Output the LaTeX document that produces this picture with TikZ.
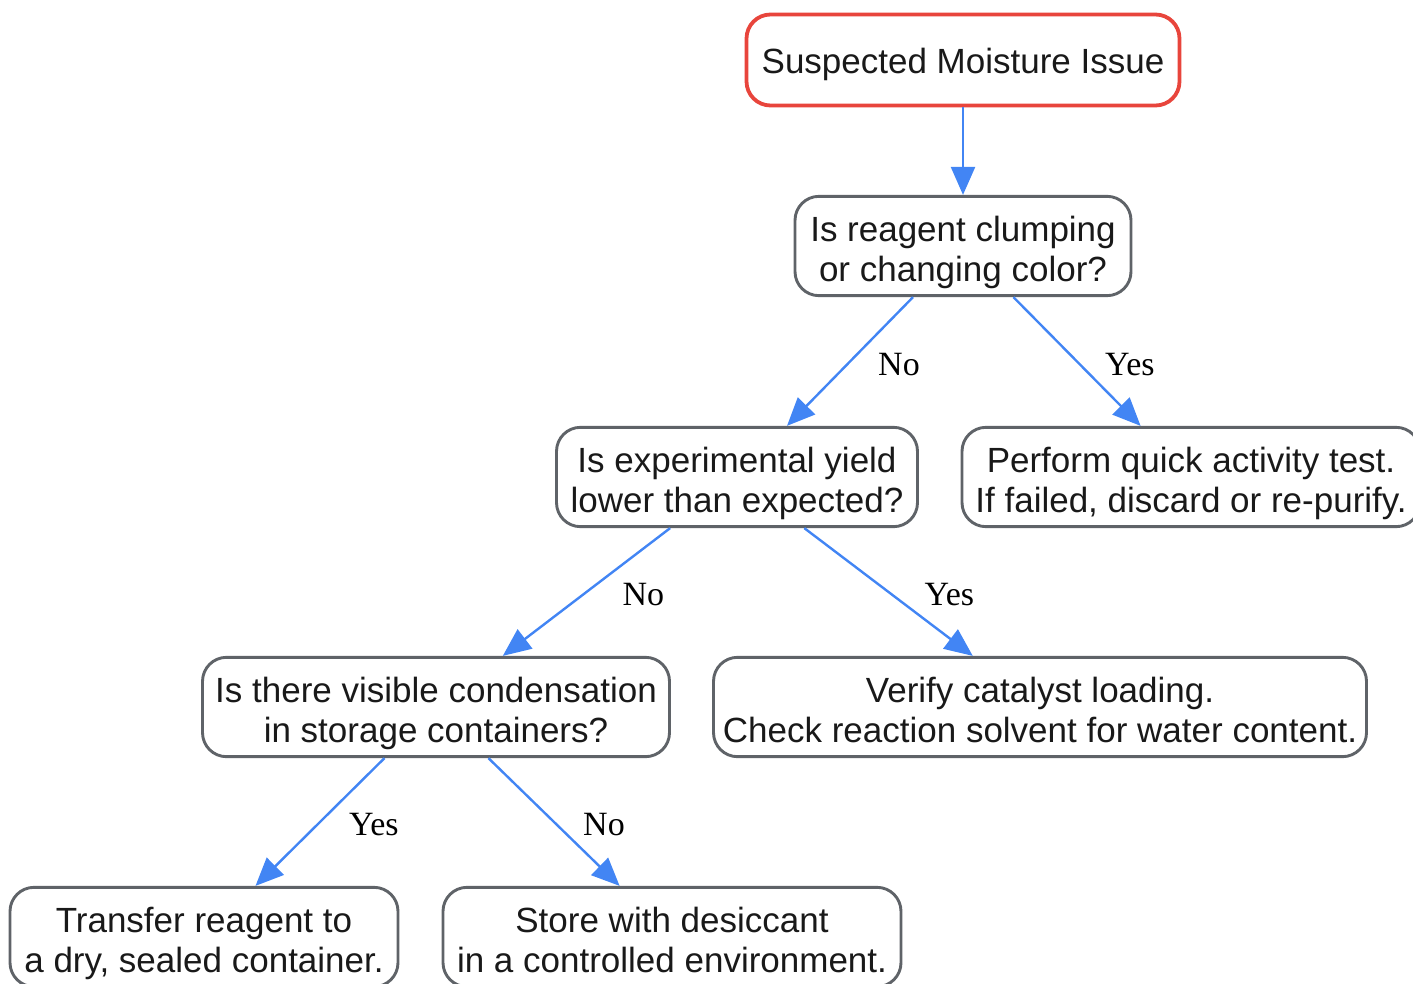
\documentclass[tikz,border=0pt]{standalone}
\usepackage{fontspec}
\setmainfont{Liberation Sans}
\newfontfamily\lblfont{Liberation Serif}
\usetikzlibrary{arrows.meta}
\definecolor{startred}{HTML}{E8453C}
\definecolor{boxgray}{HTML}{5F6368}
\definecolor{linkblue}{HTML}{4285F4}
\tikzset{
  basebox/.style={draw=boxgray, line width=1.45pt, rounded corners=12pt, align=center,
    minimum height=49.5pt, inner xsep=4pt, text=black!90,
    font=\fontsize{17.5}{20}\selectfont,
    execute at end node=\rule[-4pt]{0pt}{4pt}},
  box/.style={basebox, execute at begin node=\rule{0pt}{39pt}},
  startbox/.style={basebox, draw=startred, line width=1.9pt, minimum height=45.5pt,
    execute at begin node=\rule{0pt}{18pt}},
  link/.style={draw=linkblue, line width=1.2pt, -{Triangle[length=14pt,width=12pt]}},
  answer/.style={midway, right, inner sep=0pt, xshift=14pt, yshift=-1.5pt,
    font=\lblfont\fontsize{17}{17}\selectfont},
}

\begin{document}
\begin{tikzpicture}[x=0.5pt,y=-0.5pt]
\useasboundingbox (0,0) rectangle (1413,984);
% start
\node[startbox, minimum width=216.5pt] (start) at (963,60) {Suspected Moisture Issue};
% level 1
\node[box, minimum width=168pt] (clump) at (963,246) {Is reagent clumping\\or changing color?};
% level 2
\node[box, minimum width=180.5pt] (yield) at (737,477) {Is experimental yield\\lower than expected?};
\node[box, minimum width=229pt] (activity) at (1191,477) {Perform quick activity test.\\If failed, discard or re-purify.};
% level 3
\node[box, minimum width=233.5pt] (cond) at (436,707) {Is there visible condensation\\in storage containers?};
\node[box, minimum width=326.5pt] (verify) at (1040,707) {Verify catalyst loading.\\Check reaction solvent for water content.};
% level 4
\node[box, minimum width=194pt] (transfer) at (204,937) {Transfer reagent to\\a dry, sealed container.};
\node[box, minimum width=229pt] (store) at (672,937) {Store with desiccant\\in a controlled environment.};
% links
\draw[link] (start) -- (clump);
\draw[link] (clump) -- (yield) node[answer, xshift=-0.5pt] {No};
\draw[link] (clump) -- (activity) node[answer, xshift=-0.5pt] {Yes};
\draw[link] (yield) -- (cond) node[answer, xshift=3.5pt] {No};
\draw[link] (yield) -- (verify) node[answer, xshift=3.5pt] {Yes};
\draw[link] (cond) -- (transfer) node[answer] {Yes};
\draw[link] (cond) -- (store) node[answer] {No};
\end{tikzpicture}
\end{document}
